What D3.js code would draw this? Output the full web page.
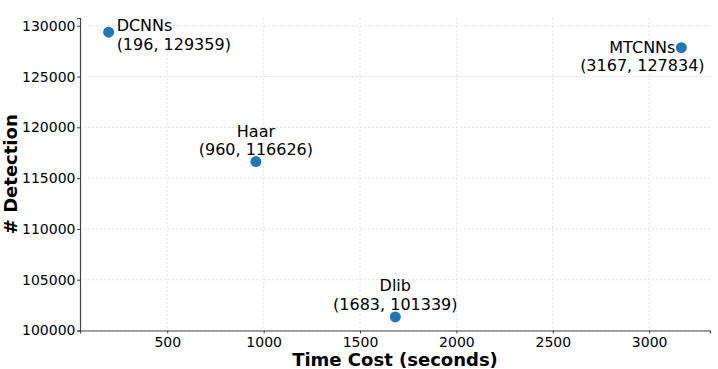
<!DOCTYPE html>
<html>
<head>
<meta charset="utf-8">
<script src="https://cdn.jsdelivr.net/npm/d3@7"></script>
<style>
  body { margin: 0; background: #fff; }
  svg { display: block; font-family: "DejaVu Sans", sans-serif; }
</style>
</head>
<body>
<svg width="718" height="369"></svg>
<script>
/*
Data
 */
var methods = ["DCNNs", "Haar", "MTCNNs", "Dlib"];
var timeCost = [196, 960, 3167, 1683];
var detections = [129359, 116626, 127834, 101339];
var xTicks = [500, 1000, 1500, 2000, 2500, 3000];
var yTicks = [100000, 105000, 110000, 115000, 120000, 125000, 130000];

// label placement around each dot: [dx, anchor, dy line 1, dy line 2]
const labelPos = {
    "DCNNs": [8, "start", -1, 17.5],
    "Haar": [0, "middle", -24.5, -7],
    "MTCNNs": [-39, "middle", 5.5, 23.5],
    "Dlib": [0, "middle", -25.5, -7]
};

const margin = {left: 80, right: 8, top: 18, bottom: 38.5};
const width = 718, height = 369;

var svg = d3.select("svg");

var points = methods.map(function(m, i) {
    return {name: m, x: timeCost[i], y: detections[i]};
});

// matplotlib-like 5% padding on x, bottom pinned to 100000
var xMin = d3.min(timeCost), xMax = d3.max(timeCost);
var xPad = (xMax - xMin) * 0.05;
var yMin = d3.min(detections), yMax = d3.max(detections);
var yPad = (yMax - yMin) * 0.05;

var x = d3.scaleLinear()
    .domain([xMin - xPad, xMax + xPad])
    .range([margin.left, width - margin.right]);
var y = d3.scaleLinear()
    .domain([100000, yMax + yPad])
    .range([height - margin.bottom, margin.top]);

//Grid
svg.append("g").selectAll("line")
    .data(xTicks)
    .join("line")
    .attr("x1", d => x(d)).attr("x2", d => x(d))
    .attr("y1", margin.top).attr("y2", height - margin.bottom)
    .attr("stroke", "#dcdcdc").attr("stroke-width", 0.8)
    .attr("stroke-dasharray", "2,2");
svg.append("g").selectAll("line")
    .data(yTicks)
    .join("line")
    .attr("x1", margin.left).attr("x2", width - margin.right)
    .attr("y1", d => y(d)).attr("y2", d => y(d))
    .attr("stroke", "#dcdcdc").attr("stroke-width", 0.8)
    .attr("stroke-dasharray", "2,2");

//Axes with short ticks
var xAxis = svg.append("g")
    .attr("transform", "translate(0," + (height - margin.bottom) + ")")
    .call(d3.axisBottom(x).tickValues(xTicks).tickSize(3).tickPadding(3.5).tickFormat(d3.format("d")));
var yAxis = svg.append("g")
    .attr("transform", "translate(" + margin.left + ",0)")
    .call(d3.axisLeft(y).tickValues(yTicks).tickSize(3).tickPadding(1.5).tickFormat(d3.format("d")));

[xAxis, yAxis].forEach(function(a) {
    a.select(".domain").attr("stroke", "#444").attr("stroke-width", 1.2);
    a.selectAll(".tick line").attr("stroke", "#444").attr("stroke-width", 1);
    a.selectAll("text")
        .attr("font-family", "DejaVu Sans")
        .attr("font-size", 14)
        .attr("fill", "#000");
});

//Axis titles
svg.append("text")
    .attr("x", (margin.left + width - margin.right) / 2)
    .attr("y", 366)
    .attr("text-anchor", "middle")
    .attr("font-size", 18).attr("font-weight", "bold")
    .text("Time Cost (seconds)");
svg.append("text")
    .attr("transform", "translate(16.5," + ((margin.top + height - margin.bottom) / 2) + ") rotate(-90)")
    .attr("text-anchor", "middle")
    .attr("font-size", 18).attr("font-weight", "bold")
    .text("# Detection");

//Dots
svg.append("g").selectAll("circle")
    .data(points)
    .join("circle")
    .attr("cx", d => x(d.x))
    .attr("cy", d => y(d.y))
    .attr("r", 5.5)
    .attr("fill", "#1f77b4");

//Annotations
var labels = svg.append("g").selectAll("text")
    .data(points)
    .join("text")
    .attr("font-size", 16)
    .attr("fill", "#000")
    .attr("text-anchor", d => labelPos[d.name][1]);
labels.append("tspan")
    .attr("x", d => x(d.x) + labelPos[d.name][0])
    .attr("y", d => y(d.y) + labelPos[d.name][2])
    .text(d => d.name);
labels.append("tspan")
    .attr("x", d => x(d.x) + labelPos[d.name][0])
    .attr("y", d => y(d.y) + labelPos[d.name][3])
    .text(d => "(" + d.x + ", " + d.y + ")");
</script>
</body>
</html>
